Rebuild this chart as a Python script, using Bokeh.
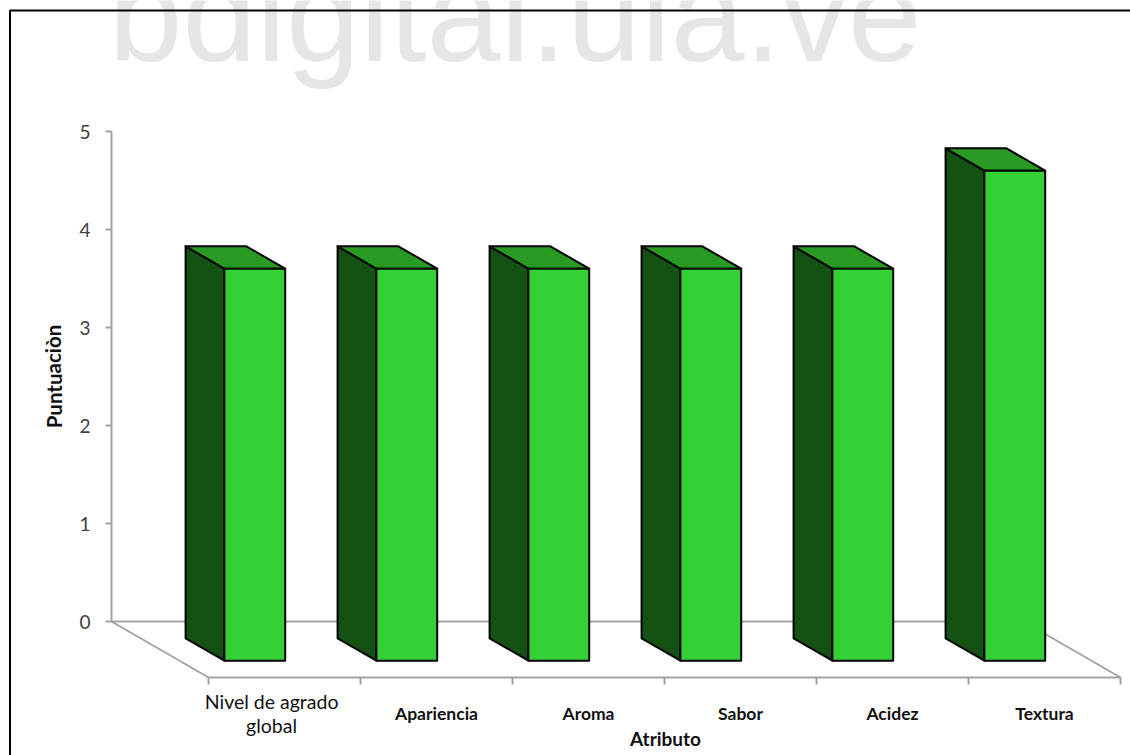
from bokeh.core.properties import value
from bokeh.embed import file_html
from bokeh.models import FixedTicker, LinearAxis, Range1d
from bokeh.plotting import figure
from bokeh.resources import INLINE

# Attribute scores
categories = ["Nivel de agrado\nglobal", "Apariencia", "Aroma", "Sabor", "Acidez", "Textura"]
scores = [4, 4, 4, 4, 4, 5]
y_ticks = [0, 1, 2, 3, 4, 5]

WIDTH, HEIGHT = 1130, 755
PX_X = 152.0   # pixels per category
PX_Y = 98.0    # pixels per score unit
X0, Y0 = 208.0, 621.0   # front-left floor corner (x), score zero on the back wall (y)
SHEAR_X, SHEAR_Y = 97 / PX_X, 56 / PX_Y   # oblique offset across the floor depth
FONT = "Lato"


def sx(px):
    return (px - X0) / PX_X


def sy(px):
    return (Y0 - px) / PX_Y


def proj(c, v, t):
    """Oblique projection: t = 0 on the back wall, t = 1 on the floor's front edge."""
    return c - (1 - t) * SHEAR_X, v - t * SHEAR_Y


p = figure(
    width=WIDTH, height=HEIGHT, output_backend="svg", toolbar_location=None,
    x_range=Range1d(sx(0), sx(WIDTH)), y_range=Range1d(sy(HEIGHT), sy(0)),
    x_axis_location=None, y_axis_location=None, min_border=0,
    outline_line_color=None, background_fill_color="white", border_fill_color="white",
)
p.xgrid.visible = False
p.ygrid.visible = False

# Watermark and chart border
p.text([sx(108)], [sy(14)], text=["bdigital.ula.ve"], text_font=value("Liberation Sans"),
       text_font_size="133px", text_color="#e6e6e6", text_baseline="alphabetic", text_align="left")
p.line([sx(9.5), sx(9.5), sx(1130)], [sy(755), sy(10), sy(10)], line_color="black", line_width=2)

# Floor outline
n = len(categories)
floor = [proj(0, 0, 1), proj(0, 0, 0), proj(n, 0, 0), proj(n, 0, 1)]
p.line([q[0] for q in floor], [q[1] for q in floor], line_color="#a3a3a3", line_width=2)

# Score axis on the back wall
y_axis = LinearAxis(fixed_location=-SHEAR_X, bounds=(0, 5), ticker=FixedTicker(ticks=y_ticks))
y_axis.axis_line_color = "#a3a3a3"
y_axis.axis_line_width = 2
y_axis.major_tick_line_color = "#a3a3a3"
y_axis.major_tick_line_width = 2
y_axis.major_tick_in = 0
y_axis.major_tick_out = 6
y_axis.minor_tick_line_color = None
y_axis.major_label_standoff = 15
y_axis.major_label_text_font = FONT
y_axis.major_label_text_font_size = "19px"
y_axis.major_label_text_color = "#404040"
p.add_layout(y_axis, "left")

# Category axis along the floor's front edge
x_axis = LinearAxis(fixed_location=-SHEAR_Y, bounds=(0, n), ticker=FixedTicker(ticks=list(range(n + 1))))
x_axis.axis_line_color = "#a3a3a3"
x_axis.axis_line_width = 2
x_axis.major_tick_line_color = "#a3a3a3"
x_axis.major_tick_line_width = 2
x_axis.major_tick_in = 0
x_axis.major_tick_out = 7
x_axis.minor_tick_line_color = None
x_axis.major_label_text_color = None
p.add_layout(x_axis, "below")

# Bars as three visible faces of a box
BAR_START, BAR_W = 0.296, 0.40
T_BACK, T_FRONT = 0.3, 0.7
front_x, front_y, side_x, side_y, top_x, top_y = [], [], [], [], [], []
for i, v in enumerate(scores):
    l, r = i + BAR_START, i + BAR_START + BAR_W
    a, b, c, d = proj(l, 0, T_FRONT), proj(r, 0, T_FRONT), proj(r, v, T_FRONT), proj(l, v, T_FRONT)
    e, f, g = proj(l, 0, T_BACK), proj(l, v, T_BACK), proj(r, v, T_BACK)
    front_x.append([q[0] for q in (a, b, c, d)])
    front_y.append([q[1] for q in (a, b, c, d)])
    side_x.append([q[0] for q in (e, a, d, f)])
    side_y.append([q[1] for q in (e, a, d, f)])
    top_x.append([q[0] for q in (f, g, c, d)])
    top_y.append([q[1] for q in (f, g, c, d)])

edge = dict(line_color="black", line_width=2, line_join="round")
p.patches(side_x, side_y, fill_color="#145214", **edge)
p.patches(top_x, top_y, fill_color="#289a24", **edge)
p.patches(front_x, front_y, fill_color="#35d035", **edge)

# Category labels below the floor
for i, name in enumerate(categories):
    two_lines = "\n" in name
    p.text([i + (0.415 if two_lines else 0.5)], [sy(713)], text=[name],
           text_font=value(FONT),
           text_font_size="19.5px" if two_lines else "17.5px",
           text_font_style="normal" if two_lines else "bold",
           text_color="#111111", text_align="center", text_baseline="middle",
           text_line_height=1.07)

# Axis titles
p.text([sx(665)], [sy(738)], text=["Atributo"], text_font=value(FONT), text_font_size="19px",
       text_font_style="bold", text_color="#111111", text_align="center", text_baseline="middle")
p.text([sx(53)], [sy(376)], text=["Puntuaciòn"], text_font=value(FONT), text_font_size="20.5px",
       text_font_style="bold", text_color="#111111", text_align="center", text_baseline="middle",
       angle=1.5708)

open("out.html", "w").write(file_html(p, INLINE))
